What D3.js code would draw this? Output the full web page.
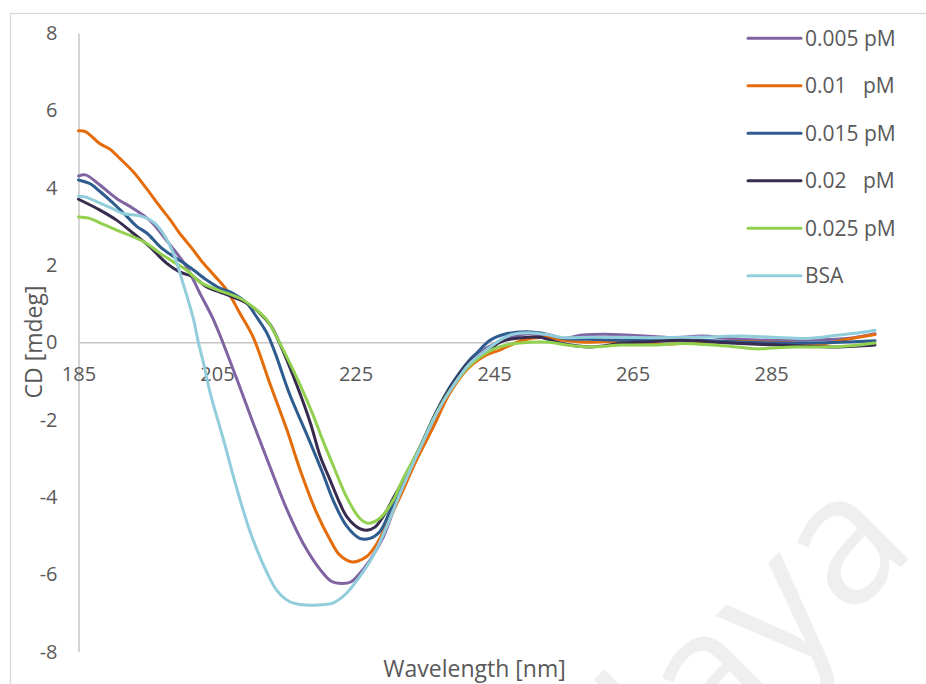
<!DOCTYPE html>
<html>
<head>
<meta charset="utf-8">
<script src="https://cdn.jsdelivr.net/npm/d3@7"></script>
<style>
  html, body { margin: 0; padding: 0; background: #ffffff; }
  svg { display: block; }
  text { font-family: "Open Sans", "Noto Sans", sans-serif; fill: #595959; }
</style>
</head>
<body>
<svg id="chart" width="926" height="684"></svg>
<script>
// Circular dichroism spectra, wavelength in nm, CD in mdeg
const xTicks = [185, 205, 225, 245, 265, 285];
const yTicks = [-8, -6, -4, -2, 0, 2, 4, 6, 8];
const seriesNames = ["0.005 pM", "0.01   pM", "0.015 pM", "0.02   pM", "0.025 pM", "BSA"];
const seriesColors = ["#8064A2", "#E46C0A", "#2F5C8E", "#372B4F", "#92D050", "#92CDDC"];

const conc005 = [[185,4.30],[186,4.33],[188,4.08],[190.5,3.72],[193,3.45],[195.3,3.15],[197.7,2.64],[200.6,1.95],[202.5,1.28],[204.4,0.62],[205.5,0.15],[207.9,-0.97],[210.2,-2.08],[212.6,-3.2],[215.1,-4.33],[217.4,-5.19],[219.9,-5.88],[221.5,-6.18],[223,-6.24],[224.3,-6.2],[225.2,-6.06],[227.1,-5.63],[229,-5.04],[231.8,-3.7],[234.2,-2.8],[236.7,-1.84],[239,-1.15],[241.5,-0.52],[243.9,-0.15],[245.8,0.02],[248,0.15],[250,0.22],[253,0.15],[255,0.1],[257.8,0.19],[261,0.21],[264,0.19],[268,0.15],[271,0.12],[275,0.16],[279,0.1],[283,0.06],[288,0.05],[293,0.07],[297,0.12],[300,0.22]];
const conc010 = [[185,5.47],[186,5.45],[188,5.15],[189.5,5.0],[191,4.75],[192.9,4.41],[194.8,3.98],[196.8,3.5],[198.2,3.18],[199.6,2.82],[201.3,2.45],[203,2.05],[204.6,1.73],[206.4,1.35],[208.3,0.75],[210.2,0.14],[212.6,-1.05],[215.1,-2.27],[217,-3.3],[219.4,-4.42],[221.3,-5.1],[222.7,-5.5],[224.5,-5.68],[226.6,-5.54],[228.1,-5.2],[231,-4.16],[233.8,-3.05],[236.2,-2.2],[238.6,-1.32],[241,-0.72],[243.9,-0.33],[245.8,-0.2],[246.8,-0.12],[249.2,0.06],[252.6,0.13],[255,0.05],[258,0.0],[262,0.02],[266,-0.02],[270,-0.05],[275,0.0],[279,0.03],[284,0.0],[288,-0.02],[292,-0.05],[296,0.08],[300,0.2]];
const conc015 = [[185,4.2],[186.7,4.1],[188.1,3.9],[190,3.6],[192,3.25],[193.4,3.0],[194.9,2.82],[196.8,2.47],[198.7,2.22],[200.2,2.05],[201.6,1.87],[203.5,1.61],[205.4,1.4],[207.3,1.27],[209.3,1.01],[210.7,0.66],[212.2,0.24],[213.4,-0.28],[215.5,-1.35],[218,-2.4],[220.3,-3.4],[221.8,-4.1],[223.7,-4.75],[225.6,-5.07],[227.1,-5.07],[228.5,-4.9],[230,-4.35],[231.8,-3.6],[234.2,-2.75],[236.7,-1.78],[239,-1.05],[241.5,-0.45],[242.5,-0.28],[244.4,0.05],[246.8,0.22],[249.7,0.27],[252.6,0.21],[255,0.1],[258.8,0.08],[262,0.06],[266,0.05],[270,0.05],[275,0.05],[281.5,0.0],[286,-0.02],[290,-0.02],[295,0.0],[300,0.04]];
const conc020 = [[185,3.7],[188.1,3.42],[190.5,3.16],[192.9,2.82],[195.3,2.47],[197.7,2.05],[199.6,1.82],[201.6,1.69],[203.5,1.43],[205.4,1.3],[207.3,1.17],[209.3,1.01],[211.2,0.75],[212.7,0.45],[214.1,-0.05],[216.5,-1.1],[218.5,-2.1],[219.9,-2.95],[221.3,-3.55],[222.7,-4.15],[223.7,-4.5],[225.6,-4.82],[226.6,-4.86],[227.8,-4.78],[229,-4.5],[230.4,-4.05],[231.8,-3.6],[234.2,-2.75],[236.7,-1.8],[239,-1.1],[241.5,-0.5],[243.9,-0.25],[245.8,0.0],[248,0.1],[251.6,0.13],[254.5,-0.02],[258.8,-0.12],[263.6,-0.02],[268,0.02],[272,0.05],[279,-0.02],[286.2,-0.07],[293.4,-0.12],[297,-0.1],[300,-0.07]];
const conc025 = [[185,3.24],[186.7,3.2],[188.1,3.09],[190.5,2.9],[192.9,2.73],[194.9,2.55],[196.8,2.3],[198.7,2.08],[200.6,1.87],[202.5,1.56],[204.4,1.4],[206.4,1.27],[208.3,1.14],[210.2,0.91],[212.2,0.58],[213.6,0.14],[215.3,-0.46],[217,-1.1],[218.8,-1.85],[220.3,-2.55],[221.8,-3.2],[223.7,-4.0],[225.6,-4.55],[226.8,-4.68],[228.5,-4.55],[230.4,-4.1],[231.8,-3.55],[234.2,-2.75],[236.7,-1.82],[239,-1.15],[241.5,-0.6],[244.4,-0.22],[246.8,-0.07],[250.1,0.0],[253,0.0],[255.5,-0.07],[258.8,-0.12],[263.6,-0.07],[268.5,-0.07],[272,-0.03],[276.6,-0.07],[280,-0.12],[282.9,-0.17],[285,-0.15],[288.6,-0.12],[293,-0.12],[297,-0.08],[300,-0.02]];
const bsa = [[185,3.78],[186,3.76],[188.1,3.6],[190,3.45],[191.4,3.33],[193.9,3.27],[195.8,3.11],[197.2,2.82],[198.7,2.3],[200.1,1.52],[201.6,0.6],[202.3,0.0],[203,-0.5],[204,-1.3],[205.9,-2.5],[207.8,-3.75],[209.7,-4.86],[211.6,-5.72],[213.6,-6.41],[215.5,-6.71],[217,-6.78],[218.8,-6.8],[220.5,-6.78],[221.8,-6.74],[223.7,-6.49],[225.6,-6.06],[227.5,-5.54],[229.5,-4.77],[231.8,-3.75],[234.2,-2.79],[236.7,-1.84],[239,-1.15],[241.5,-0.54],[243.9,-0.2],[245.8,0.05],[247.5,0.2],[250,0.25],[252.6,0.2],[255,0.12],[258.8,0.13],[263.6,0.13],[268,0.12],[271.8,0.13],[276,0.14],[280.4,0.16],[285.2,0.13],[290.1,0.1],[294.8,0.19],[297.5,0.24],[300,0.31]];
const seriesData = [conc005, conc010, conc015, conc020, conc025, bsa];

const svg = d3.select("#chart");

// chart frame
svg.append("rect")
  .attr("x", 10.5).attr("y", 13.5)
  .attr("width", 1000).attr("height", 1000)
  .attr("fill", "#ffffff").attr("stroke", "#d9d9d9").attr("stroke-width", 1.3);

// faint diagonal watermark
svg.append("text")
  .attr("transform", "translate(919,549) rotate(-45)")
  .attr("text-anchor", "end")
  .style("font-family", "'Open Sans', sans-serif")
  .style("font-size", "181px")
  .style("fill", "#efefef")
  .text("Malaya");

const x = d3.scaleLinear().domain([185, 300]).range([78.5, 875]);
const y = d3.scaleLinear().domain([-8, 8]).range([651.6, 33]);
const plainNumber = d => String(d);

// vertical axis
const yAxis = svg.append("g")
  .attr("transform", `translate(${x(185)},0)`)
  .call(d3.axisLeft(y).tickValues(yTicks).tickSize(0).tickPadding(21).tickFormat(plainNumber));
yAxis.select(".domain").attr("stroke", "#c6c6c6").attr("stroke-width", 1.5);
yAxis.selectAll("text").style("font-size", "20px").style("fill", "#595959").style("font-family", "'Open Sans', sans-serif");

// horizontal axis crossing at zero
const xAxis = svg.append("g")
  .attr("transform", `translate(0,${y(0)})`)
  .call(d3.axisBottom(x).tickValues(xTicks).tickSize(0).tickPadding(25).tickFormat(plainNumber));
xAxis.select(".domain").attr("stroke", "#c6c6c6").attr("stroke-width", 1.5);
xAxis.selectAll("text").style("font-size", "20px").style("fill", "#595959").style("font-family", "'Open Sans', sans-serif");

// axis titles
svg.append("text")
  .attr("x", 474.5).attr("y", 677)
  .attr("text-anchor", "middle")
  .style("font-size", "23px")
  .text("Wavelength [nm]");
svg.append("text")
  .attr("transform", "translate(42,342) rotate(-90)")
  .attr("text-anchor", "middle")
  .style("font-size", "23px")
  .text("CD [mdeg]");

// spectra
const line = d3.line()
  .x(d => x(d[0]))
  .y(d => y(d[1]))
  .curve(d3.curveCatmullRom.alpha(0.5));

svg.append("g").selectAll("path")
  .data(seriesData)
  .join("path")
  .attr("d", line)
  .attr("fill", "none")
  .attr("stroke", (d, i) => seriesColors[i])
  .attr("stroke-width", 3)
  .attr("stroke-linejoin", "round")
  .attr("stroke-linecap", "round");

// legend
const legend = svg.append("g");
const rowY = i => 38.3 + i * 47.5;
legend.selectAll("line")
  .data(seriesNames)
  .join("line")
  .attr("x1", 748).attr("x2", 801)
  .attr("y1", (d, i) => rowY(i)).attr("y2", (d, i) => rowY(i))
  .attr("stroke", (d, i) => seriesColors[i])
  .attr("stroke-width", 3)
  .attr("stroke-linecap", "round");
legend.selectAll("text")
  .data(seriesNames)
  .join("text")
  .attr("x", 805)
  .attr("y", (d, i) => rowY(i) + 7.5)
  .attr("xml:space", "preserve")
  .style("white-space", "pre")
  .style("font-size", "21px")
  .text(d => d);
</script>
</body>
</html>
